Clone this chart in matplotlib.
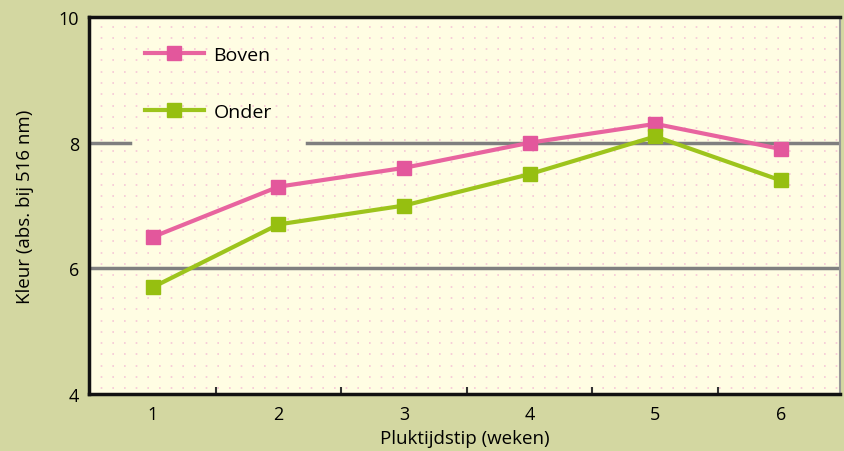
import numpy as np
import matplotlib.pyplot as plt

weeks = [1, 2, 3, 4, 5, 6]
boven = [6.5, 7.3, 7.6, 8.0, 8.3, 7.9]
onder = [5.7, 6.7, 7.0, 7.5, 8.1, 7.4]
y_ticks = [4, 6, 8, 10]

plt.rcParams['font.family'] = ['Open Sans', 'DejaVu Sans']

fig = plt.figure(figsize=(8.45, 4.52), dpi=100, facecolor='#d3d7a1')
ax = fig.add_axes([0.105, 0.126, 0.889, 0.834])
ax.set_facecolor('#fffde3')

ax.set_xlim(0.49, 6.47)
ax.set_ylim(4, 10)

# dotted background pattern
for yy in np.arange(4.09, 10, 0.18):
    ax.axhline(yy, color='#f6c6d6', lw=1.2, ls=(0, (1, 6)), zorder=0)

# grid lines (y=8 broken by legend)
ax.axhline(6, color='#7f7f7f', lw=2.5, zorder=1)
ax.axhline(8, xmin=0, xmax=0.055, color='#7f7f7f', lw=2.5, zorder=1)
ax.axhline(8, xmin=0.29, xmax=1, color='#7f7f7f', lw=2.5, zorder=1)

ax.plot(weeks, boven, color='#e8649f', lw=3, marker='s', ms=10.5,
        mfc='#e3579c', mec='#e3579c', label='Boven', zorder=3)
ax.plot(weeks, onder, color='#9dc41c', lw=3, marker='s', ms=10.5,
        mfc='#96bf10', mec='#96bf10', label='Onder', zorder=3)

ax.set_yticks(y_ticks)
ax.set_xticks(weeks)
ax.set_xticks([1.5, 2.5, 3.5, 4.5, 5.5], minor=True)
ax.tick_params(axis='y', length=0, labelsize=13, pad=7)
ax.tick_params(axis='x', which='major', length=0, labelsize=13, pad=8)
ax.tick_params(axis='x', which='minor', direction='in', length=5, width=1.5, color='#333333')

for s in ['left', 'bottom', 'top']:
    ax.spines[s].set_linewidth(2.5)
    ax.spines[s].set_color('#111111')
ax.spines['right'].set_color('#999999')
ax.spines['right'].set_linewidth(1.5)

ax.set_xlabel('Pluktijdstip (weken)', fontsize=13.5, labelpad=4)
ax.set_ylabel('Kleur (abs. bij 516 nm)', fontsize=13.5, labelpad=18)

leg = ax.legend(loc='upper left', bbox_to_anchor=(0.052, 0.97), frameon=False,
                fontsize=14, handlelength=3.0, labelspacing=2.0, handletextpad=0.5)

fig.savefig('out.png', dpi=100, facecolor=fig.get_facecolor())
